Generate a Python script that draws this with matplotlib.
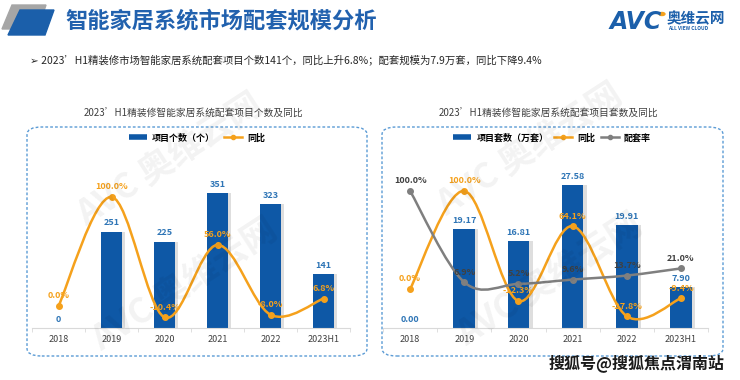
import matplotlib

matplotlib.use("Agg")
import matplotlib.pyplot as plt
import numpy as np
from matplotlib.path import Path
from matplotlib.patches import PathPatch, FancyBboxPatch, Polygon, Circle
from matplotlib.lines import Line2D

plt.rcParams['font.family'] = ['Noto Sans CJK SC', 'DejaVu Sans']

years = ["2018", "2019", "2020", "2021", "2022", "2023H1"]
project_counts = [0, 251, 225, 351, 323, 141]
count_yoy = [0.0, 100.0, -10.4, 56.0, -8.0, 6.8]
unit_counts = [0.00, 19.17, 16.81, 27.58, 19.91, 7.90]
unit_yoy = [0.0, 100.0, -12.3, 64.1, -27.8, -9.4]
match_rate = [100.0, 6.9, 5.2, 9.6, 13.7, 21.0]

BLUE = "#0E58A6"
LBL_BLUE = "#2E75B6"
ORANGE = "#F5A11C"
GRAY = "#7F7F7F"
W, H = 740, 380


def fx(x):
    return x / W


def fy(y):
    return 1 - y / H


def smooth_path(xs, ys):
    """Excel-like smoothed line through the points (Catmull-Rom as cubic Bezier)."""
    pts = np.column_stack([xs, ys]).astype(float)
    ext = np.vstack([pts[0], pts, pts[-1]])
    verts = [pts[0]]
    codes = [Path.MOVETO]
    for i in range(len(pts) - 1):
        p0, p1, p2, p3 = ext[i], ext[i + 1], ext[i + 2], ext[i + 3]
        verts += [p1 + (p2 - p0) / 6, p2 - (p3 - p1) / 6, p2]
        codes += [Path.CURVE4] * 3
    return Path(verts, codes)


def draw_line(ax, x, vals, color, lbl_color, off=4):
    ax.add_patch(PathPatch(smooth_path(x, vals), fill=False, edgecolor=color, lw=1.8, zorder=4))
    ax.plot(x, vals, "o", color=color, ms=4, zorder=5)
    for xi, v in zip(x, vals):
        ax.annotate(f"{v:.1f}%", (xi, v), xytext=(0, off), textcoords="offset points",
                    ha="center", va="bottom", fontsize=6.5, color=lbl_color, weight="bold", zorder=6)


def panel(rect, bars, bar_fmt, ylim, ylim2):
    ax = fig.add_axes(rect)
    x = np.arange(len(years))
    ax.bar(x + 0.06, bars, 0.4, color="#000000", alpha=0.13, zorder=1)
    ax.bar(x, bars, 0.4, color=BLUE, zorder=2)
    for xi, v in zip(x, bars):
        ax.annotate(bar_fmt.format(v), (xi, v), xytext=(0, 3), textcoords="offset points",
                    ha="center", va="bottom", fontsize=6.5, color=LBL_BLUE, weight="bold")
    ax.set_xlim(-0.5, len(years) - 0.5)
    ax.set_ylim(*ylim)
    ax.set_xticks(x, years)
    ax.set_xticks(np.arange(-0.5, len(years)), minor=True)
    ax.tick_params(axis="x", which="major", length=0, labelsize=6.5, colors="#404040", pad=5)
    ax.tick_params(axis="x", which="minor", length=3, color="#D9D9D9")
    ax.set_yticks([])
    for s in ["top", "left", "right"]:
        ax.spines[s].set_visible(False)
    ax.spines["bottom"].set_color("#D9D9D9")
    ax.patch.set_alpha(0)
    ax2 = ax.twinx()
    ax2.set_ylim(*ylim2)
    ax2.set_yticks([])
    for s in ax2.spines.values():
        s.set_visible(False)
    return ax, ax2, x


fig = plt.figure(figsize=(7.4, 3.8), dpi=100)

# faint tiled watermark
for cx, cy in [(170, 160), (185, 285), (530, 150), (550, 280)]:
    fig.text(fx(cx), fy(cy), "AVC 奥维云网", rotation=33, fontsize=25, weight="bold",
             color="#000000", alpha=0.05, ha="center", va="center")

# header icon
fig.add_artist(Polygon([(fx(12), fy(5)), (fx(46), fy(5)), (fx(38), fy(29)), (fx(2), fy(29))],
                       closed=True, transform=fig.transFigure, color="#A6A6A6"))
fig.add_artist(Polygon([(fx(20), fy(10)), (fx(54), fy(10)), (fx(45), fy(35)), (fx(8), fy(35))],
                       closed=True, transform=fig.transFigure, color="#1B5FAA"))
fig.text(fx(65), fy(21), "智能家居系统市场配套规模分析", fontsize=16, weight="bold",
         color="#2161AE", va="center")

# logo
fig.text(fx(610), fy(22), "AVC", fontsize=17, weight="bold", style="italic",
         color="#1B5FAA", va="center", family="DejaVu Sans")
fig.add_artist(Circle((fx(662), fy(14)), 0.004, transform=fig.transFigure, color=ORANGE))
fig.text(fx(667), fy(18), "奥维云网", fontsize=10.5, weight="bold", color="#1B5FAA", va="center")
fig.text(fx(668), fy(28), "ALL VIEW CLOUD", fontsize=3.5, weight="bold", color="#1B5FAA", va="center")

fig.text(fx(30), fy(60), "➢ 2023’H1精装修市场智能家居系统配套项目个数141个，同比上升6.8%；配套规模为7.9万套，同比下降9.4%",
         fontsize=7.5, color="#262626", va="center")

# panel frames and titles
for x0, x1, tcx, title in [(27, 367, 193, "2023’H1精装修智能家居系统配套项目个数及同比"),
                           (382, 723, 548, "2023’H1精装修智能家居系统配套项目套数及同比")]:
    fig.add_artist(FancyBboxPatch((fx(x0), fy(356)), fx(x1 - x0), (356 - 127) / H,
                                  boxstyle="round,pad=0,rounding_size=0.02",
                                  transform=fig.transFigure, fill=False,
                                  edgecolor="#5B9BD5", lw=1, linestyle=(0, (2, 1.5))))
    fig.text(fx(tcx), fy(114), title, fontsize=7, color="#404040", ha="center", va="center")

bar_handle = Line2D([], [], color=BLUE, lw=4, solid_capstyle="butt")

ax, ax2, x = panel([fx(32), fy(328), fx(318), (328 - 155) / H], project_counts, "{:.0f}",
                   (0, 450), (-20.2, 138.5))
draw_line(ax2, x, count_yoy, ORANGE, ORANGE)
ax.legend(handles=[bar_handle, Line2D([], [], color=ORANGE, lw=1.8, marker="o", ms=3)],
          labels=["项目个数（个）", "同比"], loc="center", bbox_to_anchor=(fx(197), fy(138)),
          bbox_transform=fig.transFigure, ncol=2, frameon=False, prop={"size": 6.5, "weight": "bold"},
          handlelength=2.0, columnspacing=1.0, handletextpad=0.6)

bx, bx2, x = panel([fx(383), fy(328), fx(325), (328 - 155) / H], unit_counts, "{:.2f}",
                   (0, 33.4), (-39.8, 136.7))
draw_line(bx2, x, unit_yoy, ORANGE, ORANGE)
draw_line(bx2, x, match_rate, GRAY, "#404040")
bx.legend(handles=[bar_handle, Line2D([], [], color=ORANGE, lw=1.8, marker="o", ms=3),
                   Line2D([], [], color=GRAY, lw=1.8, marker="o", ms=3)],
          labels=["项目套数（万套）", "同比", "配套率"], loc="center", bbox_to_anchor=(fx(552), fy(138)),
          bbox_transform=fig.transFigure, ncol=3, frameon=False, prop={"size": 6.5, "weight": "bold"},
          handlelength=2.0, columnspacing=0.6, handletextpad=0.6)

fig.text(fx(725), fy(363), "搜狐号@搜狐焦点渭南站", fontsize=11.5, weight="bold",
         color="#1A1A1A", ha="right", va="center")

fig.savefig("out.png", dpi=100)
